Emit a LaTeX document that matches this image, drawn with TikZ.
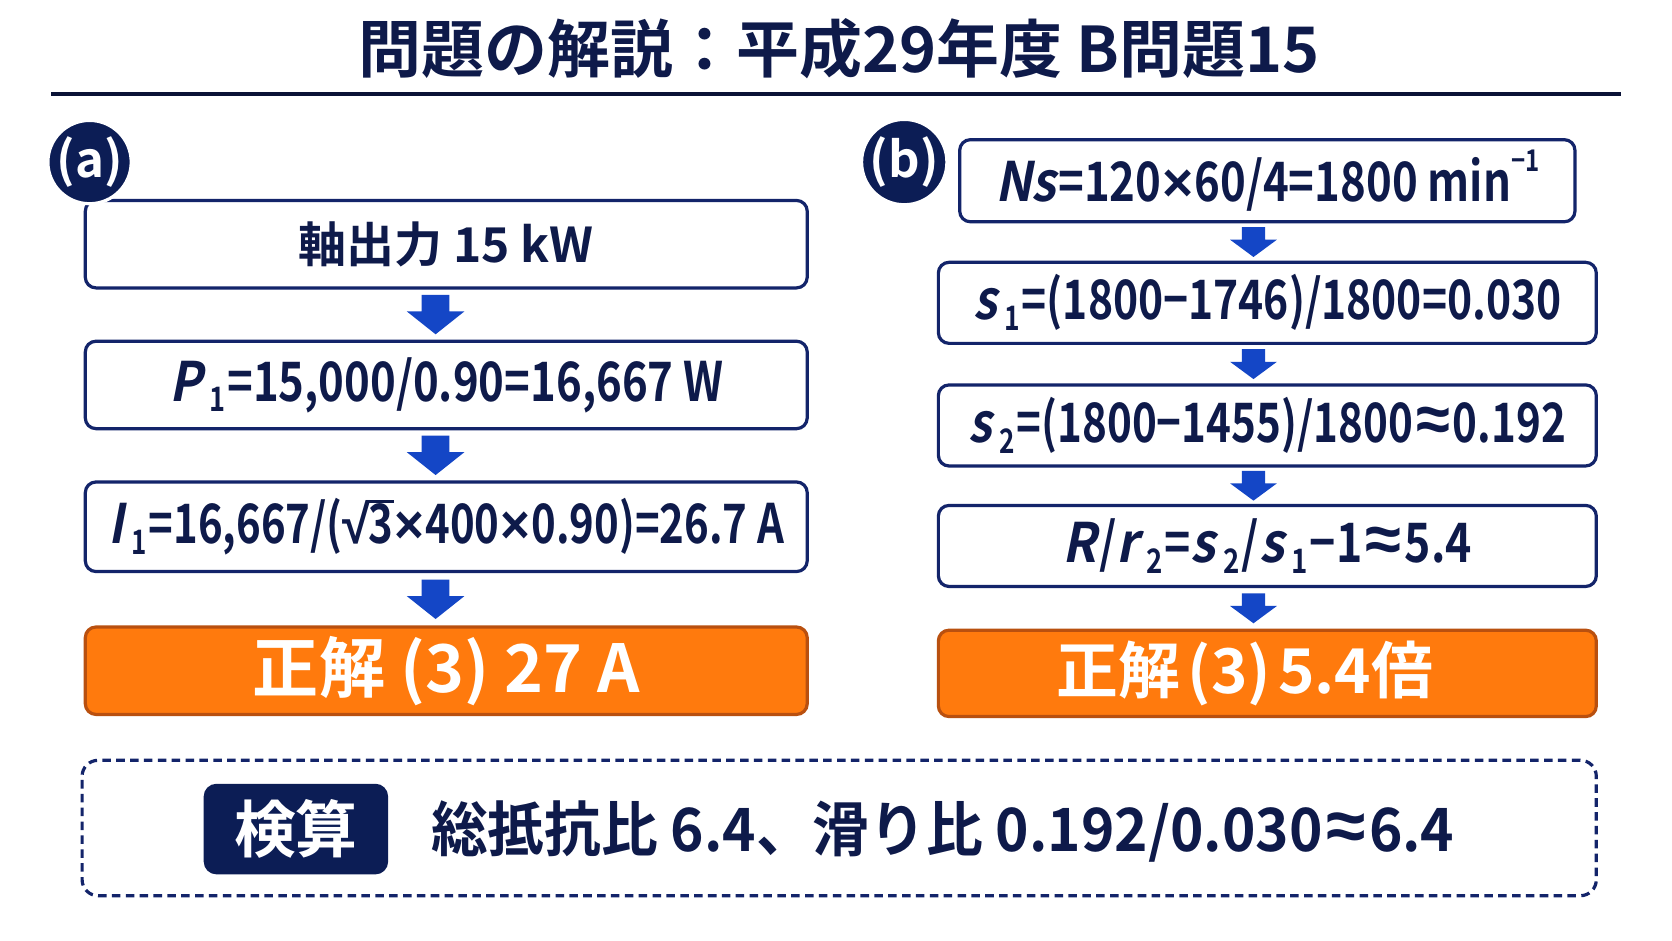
\documentclass[tikz,border=0pt]{standalone}
\usepackage{fontspec}
\usepackage{graphicx}
\usetikzlibrary{calc}
\newfontfamily\jb{Noto Sans CJK JP Bold}
\newfontfamily\fm{Noto Sans CJK JP Bold}[FakeStretch=0.82]
\newfontfamily\fmi{Noto Sans CJK JP Bold}[FakeStretch=0.92,FakeSlant=0.2]
\newfontfamily\fmb{Noto Sans CJK JP Bold}[FakeStretch=0.95]
\newfontfamily\sym{Liberation Sans Bold}
\definecolor{navy}{HTML}{0E1A4A}
\definecolor{bordc}{HTML}{13246A}
\definecolor{circc}{HTML}{0C1D55}
\definecolor{arrc}{HTML}{1446C6}
\definecolor{orng}{HTML}{FF7A0D}
\definecolor{orngb}{HTML}{B9500F}
\definecolor{rulec}{HTML}{0A1236}
\newcommand\vi[1]{{\fmi #1}}
\newcommand\sbs[1]{\kern0.14em\raisebox{-0.2em}{\scalebox{0.62}{#1}}\kern0.04em}
\newcommand\sps[1]{\raisebox{0.55em}{\scalebox{0.55}{#1}}}
\newcommand\tms{{\sym\kern0.02em ×\kern0.02em}}
\newcommand\apx{{\sym\kern0.06em\raisebox{0.02em}{\scalebox{1.2}{≈}}\kern0.06em}}
\newcommand\rtthree{{\sym √}\kern-0.04em\makebox[0pt][l]{\rule[0.74em]{0.5em}{0.06em}}3}
\newcommand\fs[1]{\fontsize{#1}{#1}\selectfont}
\newcommand\hs[2]{\scalebox{#1}[1]{#2}}
\newcommand\darrow[4]{% #1 coord name, #2 head half width, #3 shaft half width, #4 length
  \fill[arrc] ([shift={(-#3,-#4/2)}]#1) -- ([shift={(#3,-#4/2)}]#1)
    -- ([shift={(#3,-0.08*#4)}]#1) -- ([shift={(#2,-0.08*#4)}]#1)
    -- ([shift={(0,#4/2)}]#1) -- ([shift={(-#2,-0.08*#4)}]#1)
    -- ([shift={(-#3,-0.08*#4)}]#1) -- cycle;}
\tikzset{
  wbox/.style={draw=bordc, line width=3pt, rounded corners=10pt, fill=white,
    inner sep=0pt, text=navy},
  obox/.style={draw=orngb, line width=3pt, rounded corners=10pt, fill=orng,
    inner sep=0pt, text=white},
  badge/.style={circle, fill=circc, draw=white, line width=3pt, minimum size=78pt,
    inner sep=0pt, text=white},
  fml/.style={font=\fm\fs{51}},
}
\begin{document}
\begin{tikzpicture}[x=1pt,y=-1pt]
\useasboundingbox (0,0) rectangle (1568,882);
\fill[white] (0,0) rectangle (1568,882);
% title
\node[text=navy, font=\jb\fs{59}] (title) at (787,46) {問題の解説：平成29年度 B問題15};
\coordinate (r1) at (48,88);
\coordinate (r2) at (1520,88);
\draw[rulec, line width=4pt] (r1) -- (r2);
% left column
\node[wbox, minimum width=677pt, minimum height=82pt, font=\jb\fs{45}] (L1) at (418.5,229) {軸出力 15 kW};
\node[wbox, minimum width=677pt, minimum height=82pt, fml] (L2) at (418.5,361) {\hs{0.98}{\vi{P}\sbs{1}=15,000/0.90=16,667 W}};
\node[wbox, minimum width=677pt, minimum height=84pt, fml] (L3) at (418.5,494) {\hs{0.94}{\vi{I}\sbs{1}=16,667/(\rtthree\tms400\tms0.90)=26.7 A}};
\node[obox, minimum width=677pt, minimum height=82pt, font=\jb\fs{62}] (L4) at (418.5,629) {正解 (3) 27 A};
\node[badge, font=\jb\fs{46}] (ba) at (84,152) {(a)};
\coordinate (la1) at ($(L1.south)!0.5!(L2.north)+(-10,0)$);
\coordinate (la2) at ($(L2.south)!0.5!(L3.north)+(-10,0)$);
\coordinate (la3) at ($(L3.south)!0.5!(L4.north)+(-10,0)$);
\darrow{la1}{27}{13}{37}
\darrow{la2}{27}{13}{37}
\darrow{la3}{27}{13}{37}
% right column
\node[wbox, minimum width=577pt, minimum height=77pt, fml] (R1) at (1188.5,169.5) {\hs{0.98}{\vi{Ns}\kern0.04em=120\tms60/4=1800 min\sps{−1}}};
\node[wbox, minimum width=617pt, minimum height=76pt, fml] (R2) at (1188.5,284) {\hs{0.955}{\vi{s}\sbs{1}=(1800−1746)/1800=0.030}};
\node[wbox, minimum width=617pt, minimum height=76pt, fml] (R3) at (1188.5,399) {\hs{0.945}{\vi{s}\sbs{2}=(1800−1455)/1800\apx0.192}};
\node[wbox, minimum width=617pt, minimum height=76pt, fml] (R4) at (1188.5,512) {\vi{R}\kern0.05em/\vi{r}\sbs{2}=\vi{s}\sbs{2}/\vi{s}\sbs{1}−1\apx5.4};
\node[obox, minimum width=617pt, minimum height=81pt] (R5) at (1188.5,631.5) {};
\node[text=white, inner sep=0pt, font=\jb\fs{58}] (R5t) at ($(R5.center)+(-21,0)$) {正解\hspace{0.12em}(3)\hspace{0.12em}5.4倍};
\node[badge, font=\jb\fs{46}] (bb) at (848,152) {(b)};
\coordinate (ra1) at ($(R1.south)!0.5!(R2.north)+(-13,0)$);
\coordinate (ra2) at ($(R2.south)!0.5!(R3.north)+(-13,0)$);
\coordinate (ra3) at ($(R3.south)!0.5!(R4.north)+(-13,0)$);
\coordinate (ra4) at ($(R4.south)!0.5!(R5.north)+(-13,0)$);
\darrow{ra1}{22}{11}{28}
\darrow{ra2}{22}{11}{28}
\darrow{ra3}{22}{11}{28}
\darrow{ra4}{22}{11}{28}
% check box
\node[draw=bordc, line width=3pt, dash pattern=on 8pt off 5pt, rounded corners=15pt,
  minimum width=1420pt, minimum height=127pt, inner sep=0pt] (chk) at (787,776.5) {};
\node[fill=circc, rounded corners=12pt, minimum width=173pt, minimum height=85pt,
  inner sep=0pt, text=white, font=\jb\fs{58}] (ken) at (277.5,777.5) {検算};
\node[anchor=west, inner sep=0pt, text=navy, font=\fmb\fs{56}] (chktxt) at (404,780)
  {総抵抗比 6.4、滑り比 0.192/0.030\apx6.4};
\end{tikzpicture}
\end{document}
